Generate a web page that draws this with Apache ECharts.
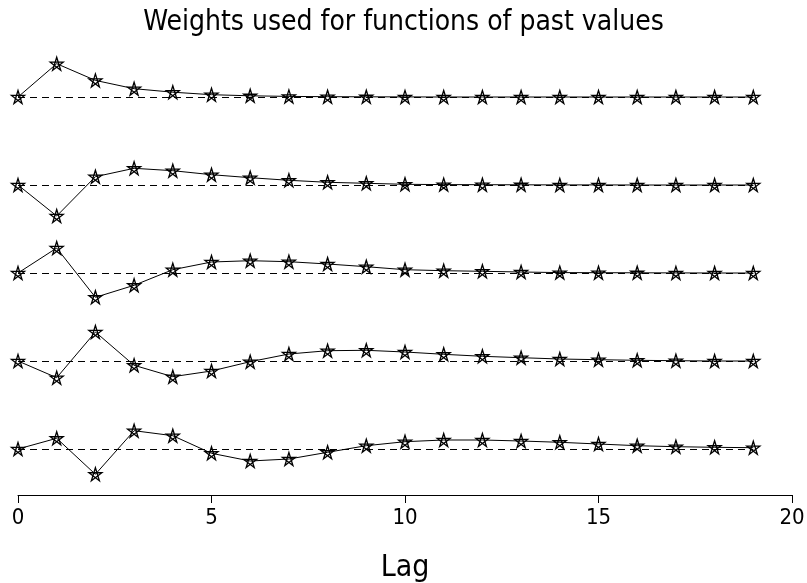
<!DOCTYPE html>
<html>
<head>
<meta charset="utf-8">
<script src="https://cdn.jsdelivr.net/npm/echarts@6/dist/echarts.min.js"></script>
<style>
  html, body { margin: 0; padding: 0; background: #fff; }
  #chart { width: 807px; height: 583px; }
</style>
</head>
<body>
<div id="chart"></div>
<script>
const lags = [0, 1, 2, 3, 4, 5, 6, 7, 8, 9, 10, 11, 12, 13, 14, 15, 16, 17, 18, 19]
const xTicks = [0, 5, 10, 15, 20]

// weights, one panel each (top to bottom)
const weights1 = [0, 0.333, 0.166, 0.083, 0.048, 0.023, 0.012, 0.006, 0.003, 0.002, 0.001, 0, 0, 0, 0, 0, 0, 0, 0, 0]
const weights2 = [0, -0.31, 0.083, 0.167, 0.143, 0.103, 0.073, 0.047, 0.027, 0.017, 0.007, 0.004, 0.003, 0.002, 0.001, 0.001, 0, 0, 0, 0]
const weights3 = [0, 0.25, -0.243, -0.123, 0.033, 0.11, 0.123, 0.113, 0.09, 0.063, 0.033, 0.023, 0.017, 0.01, 0.004, 0.003, 0.002, 0.001, 0, 0]
const weights4 = [0, -0.167, 0.29, -0.043, -0.157, -0.1, -0.007, 0.07, 0.103, 0.107, 0.09, 0.067, 0.047, 0.033, 0.02, 0.013, 0.007, 0.003, 0, 0]
const weights5 = [0, 0.107, -0.253, 0.183, 0.133, -0.043, -0.12, -0.1, -0.033, 0.033, 0.073, 0.09, 0.09, 0.08, 0.067, 0.05, 0.033, 0.023, 0.017, 0.013]

const panels = [weights1, weights2, weights3, weights4, weights5]
const gridTops = [53, 141, 229, 317, 405]

const font = '"DejaVu Sans Condensed", "DejaVu Sans", sans-serif'
// pentagram drawn as strokes, like the plotting symbol in the original
const star = 'path://M0,-10 L5.88,8.09 L-9.51,-3.09 L9.51,-3.09 L-5.88,8.09 Z'

const grids = []
const xAxes = []
const yAxes = []
const series = []

panels.forEach((w, i) => {
  const last = i === panels.length - 1
  grids.push({ left: 18, right: 15, top: gridTops[i], height: 88, outerBoundsMode: 'none', containLabel: false })
  xAxes.push({
    gridIndex: i,
    type: 'value',
    min: 0,
    max: 20,
    interval: 5,
    show: last,
    offset: 2,
    name: last ? 'Lag' : '',
    nameLocation: 'middle',
    nameGap: 58,
    nameTextStyle: { fontFamily: font, fontSize: 30, color: '#000' },
    axisLine: { show: true, onZero: false, lineStyle: { color: '#000', width: 1 } },
    axisTick: { show: true, length: 8, lineStyle: { color: '#000' } },
    axisLabel: {
      margin: 12,
      fontFamily: font,
      fontSize: 22,
      color: '#000',
      formatter: v => xTicks.includes(v) ? String(v) : ''
    },
    splitLine: { show: false }
  })
  yAxes.push({ gridIndex: i, type: 'value', min: -0.44, max: 0.44, show: false })
  series.push({
    type: 'line',
    xAxisIndex: i,
    yAxisIndex: i,
    data: lags.map((l, k) => [l, w[k]]),
    symbol: star,
    symbolSize: 13,
    showAllSymbol: true,
    lineStyle: { color: '#000', width: 1 },
    itemStyle: { color: 'rgba(255,255,255,0)', borderColor: '#000', borderWidth: 1.3 },
    animation: false,
    markLine: {
      silent: true,
      symbol: 'none',
      label: { show: false },
      lineStyle: { color: '#000', width: 1, type: [7, 5] },
      data: [[{ coord: [lags[0], 0] }, { coord: [lags[lags.length - 1], 0] }]]
    }
  })
})

const chart = echarts.init(document.getElementById('chart'))
chart.setOption({
  backgroundColor: '#fff',
  animation: false,
  title: {
    text: 'Weights used for functions of past values',
    left: 'center',
    top: 4,
    textStyle: { fontFamily: font, fontSize: 28, fontWeight: 'normal', color: '#000' }
  },
  grid: grids,
  xAxis: xAxes,
  yAxis: yAxes,
  series: series
})
</script>
</body>
</html>
